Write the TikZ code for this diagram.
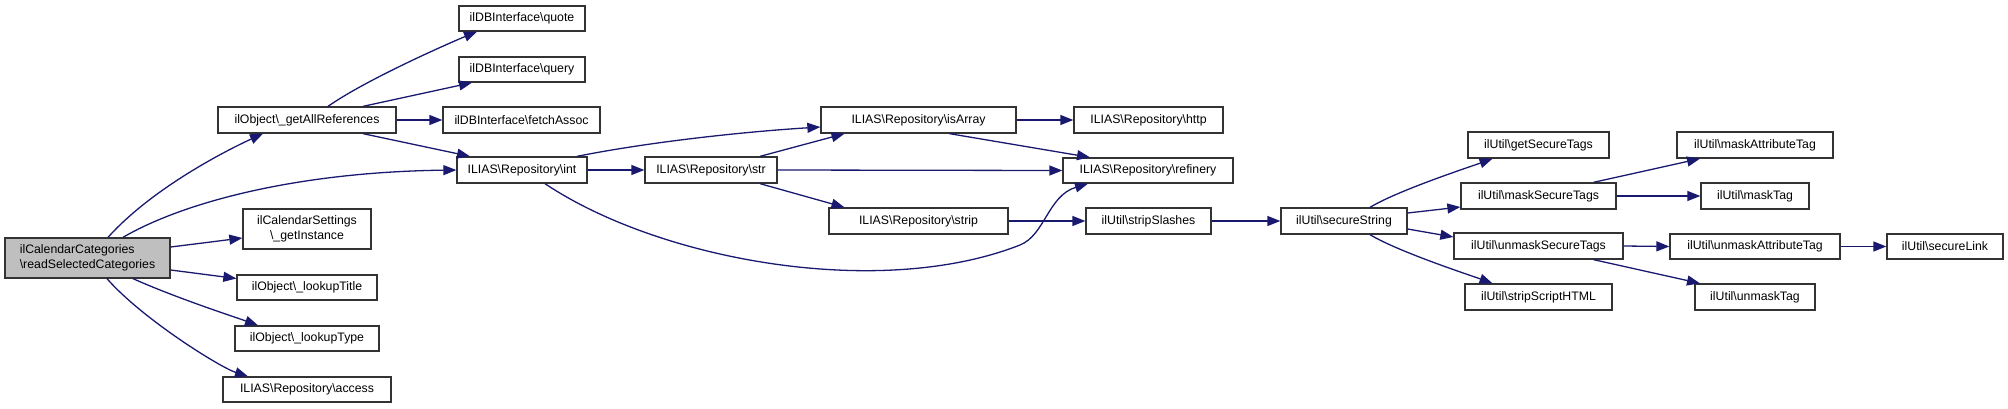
\documentclass[tikz,border=0pt]{standalone}
\usepackage{fontspec}
\setmainfont{Liberation Sans}
\usetikzlibrary{arrows.meta,calc}
\definecolor{edgecol}{HTML}{191970}
\definecolor{boxcol}{HTML}{333333}
\definecolor{rootfill}{HTML}{BFBFBF}
\newcommand{\bs}{\textbackslash}
\begin{document}
\begin{tikzpicture}[x=1pt,y=-1pt,
  box/.style={draw=boxcol,line width=1.3pt,fill=white,inner sep=0pt,
    font=\fontsize{12.3}{15}\selectfont,text=black},
  rootbox/.style={box,fill=rootfill,align=left},
  twoline/.style={box,align=center},
  edge/.style={draw=edgecol,line width=1.3pt,
    -{Triangle[length=13pt,width=10pt,fill=edgecol]}}]
\useasboundingbox (0,0) rectangle (2008,408);
% nodes
\node[rootbox,minimum width=165,minimum height=40] (root) at (87.5,258) {ilCalendarCategories\\\bs readSelectedCategories};
\node[box,minimum width=178,minimum height=26] (gar) at (307,120) {ilObject\bs\_getAllReferences};
\node[twoline,minimum width=128,minimum height=40] (cal) at (307,229) {ilCalendarSettings\\\bs\_getInstance};
\node[box,minimum width=140,minimum height=25] (ltitle) at (307,287.5) {ilObject\bs\_lookupTitle};
\node[box,minimum width=144,minimum height=25] (ltype) at (307,338.5) {ilObject\bs\_lookupType};
\node[box,minimum width=168,minimum height=25] (access) at (307,389.5) {ILIAS\bs Repository\bs access};
\node[box,minimum width=126,minimum height=25] (quote) at (522,18.5) {ilDBInterface\bs quote};
\node[box,minimum width=126,minimum height=25] (query) at (522,69.5) {ilDBInterface\bs query};
\node[box,minimum width=157,minimum height=26] (fetch) at (521.5,120) {ilDBInterface\bs fetchAssoc};
\node[box,minimum width=130,minimum height=26] (int) at (522,170) {ILIAS\bs Repository\bs int};
\node[box,minimum width=132,minimum height=26] (str) at (711,170) {ILIAS\bs Repository\bs str};
\node[box,minimum width=195,minimum height=26] (isarr) at (918.5,120) {ILIAS\bs Repository\bs isArray};
\node[box,minimum width=179,minimum height=26] (strip) at (918.5,221) {ILIAS\bs Repository\bs strip};
\node[box,minimum width=149,minimum height=26] (http) at (1148.5,120) {ILIAS\bs Repository\bs http};
\node[box,minimum width=170,minimum height=25] (ref) at (1148,170.5) {ILIAS\bs Repository\bs refinery};
\node[box,minimum width=125,minimum height=26] (sslash) at (1148.5,221) {ilUtil\bs stripSlashes};
\node[box,minimum width=126,minimum height=26] (sstr) at (1344,221) {ilUtil\bs secureString};
\node[box,minimum width=141,minimum height=26] (gst) at (1538.5,145) {ilUtil\bs getSecureTags};
\node[box,minimum width=155,minimum height=26] (mst) at (1538.5,196) {ilUtil\bs maskSecureTags};
\node[box,minimum width=169,minimum height=26] (umst) at (1538.5,246) {ilUtil\bs unmaskSecureTags};
\node[box,minimum width=147,minimum height=26] (ssh) at (1538.5,297) {ilUtil\bs stripScriptHTML};
\node[box,minimum width=156,minimum height=26] (mat) at (1755,145) {ilUtil\bs maskAttributeTag};
\node[box,minimum width=108,minimum height=26] (mtag) at (1755,196) {ilUtil\bs maskTag};
\node[box,minimum width=170,minimum height=25] (uat) at (1755,246.5) {ilUtil\bs unmaskAttributeTag};
\node[box,minimum width=116,minimum height=25] (slink) at (1945,246.5) {ilUtil\bs secureLink};
\node[box,minimum width=120,minimum height=26] (umtag) at (1755,297) {ilUtil\bs unmaskTag};
\coordinate (m1) at (1020,245);
% edges
\draw[edge] ($(root.north)+(20.5,0)$) .. controls +(45,-50) and +(-35,16) .. ($(gar.south)+(-44,0)$);
\draw[edge] ($(root.north)+(35.5,0)$) .. controls +(60,-35) and +(-160,2) .. (int.west);
\draw[edge] ($(root.east)+(0,-11)$) -- ($(cal.west)+(0,9)$);
\draw[edge] ($(root.east)+(0,12)$) -- ($(ltitle.west)+(0,-9)$);
\draw[edge] ($(root.south)+(45.5,0)$) .. controls +(45,20) and +(-25,-9) .. ($(ltype.north)+(-49,0)$);
\draw[edge] ($(root.south)+(19.5,0)$) .. controls +(35,40) and +(-28,-9) .. ($(access.north)+(-59,0)$);
\draw[edge] ($(gar.north)+(21,0)$) .. controls +(40,-28) and +(-22,9) .. ($(quote.south)+(-45,0)$);
\draw[edge] ($(gar.north)+(56,0)$) -- ($(query.south)+(-50,0)$);
\draw[edge] (gar.east) -- (fetch.west);
\draw[edge] ($(gar.south)+(56,0)$) -- ($(int.north)+(-52,0)$);
\draw[edge] ($(int.north)+(55,0)$) .. controls +(70,-14) and +(-80,5) .. ($(isarr.west)+(0,7)$);
\draw[edge] (int.east) -- (str.west);
\draw[edge] ($(int.south)+(23,0)$) .. controls +(115,77) and +(-140,55) .. (m1) .. controls +(25,-10) and +(-40,12) .. ($(ref.south)+(-60,0)$);
\draw[edge] ($(str.north)+(49,0)$) -- ($(isarr.south)+(-74,0)$);
\draw[edge] (str.east) -- (ref.west);
\draw[edge] ($(str.south)+(49,0)$) -- ($(strip.north)+(-74,0)$);
\draw[edge] (isarr.east) -- (http.west);
\draw[edge] ($(isarr.south)+(31,0)$) -- ($(ref.north)+(-58,0)$);
\draw[edge] (strip.east) -- (sslash.west);
\draw[edge] (sslash.east) -- (sstr.west);
\draw[edge] ($(sstr.north)+(26,0)$) .. controls +(28,-17) and +(-22,8) .. ($(gst.south)+(-46,0)$);
\draw[edge] ($(sstr.east)+(0,-8)$) -- ($(mst.west)+(0,11)$);
\draw[edge] ($(sstr.east)+(0,8)$) -- ($(umst.west)+(0,-9)$);
\draw[edge] ($(sstr.south)+(26,0)$) .. controls +(28,17) and +(-22,-8) .. ($(ssh.north)+(-46,0)$);
\draw[edge] ($(mst.north)+(55,0)$) -- ($(mat.south)+(-55,0)$);
\draw[edge] (mst.east) -- (mtag.west);
\draw[edge] (umst.east) -- (uat.west);
\draw[edge] ($(umst.south)+(55,0)$) -- ($(umtag.north)+(-55,0)$);
\draw[edge] (uat.east) -- (slink.west);
\end{tikzpicture}
\end{document}
